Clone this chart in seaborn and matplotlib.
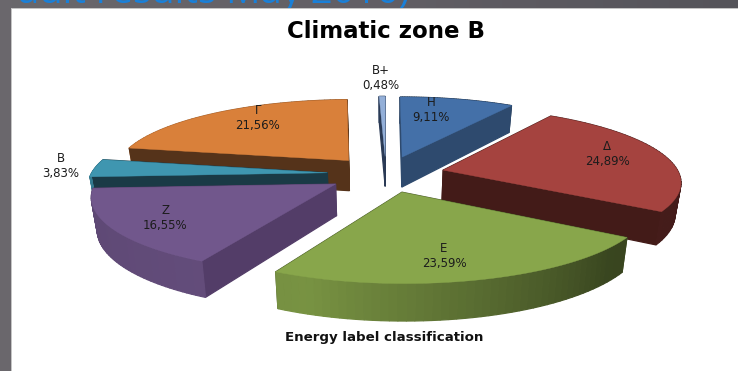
"""
plot.py
Exploded 3D style pie for climatic zone B, saved to out.png.
"""

import numpy as np
import matplotlib.pyplot as plt
import seaborn as sns

sns.set_theme(style="white")

# clockwise from 12 o'clock
labels = ['Η', 'Δ', 'Ε', 'Ζ', 'Β', 'Γ', 'Β+']
shares = [9.11, 24.89, 23.59, 16.55, 3.83, 21.56, 0.48]
share_text = ['9,11%', '24,89%', '23,59%', '16,55%', '3,83%', '21,56%', '0,48%']
top_colors = ['#4470a8', '#a5433f', '#88a64b', '#71578c', '#3f96b0', '#d9803a', '#93afd8']
side_colors = ['#2e4a6e', '#431b18', '#3f4f22', '#533d68', '#1a3a46', '#55331a', '#2a3a55']

# where each label sits, same order as labels
label_pos = [(431, 110), (607, 154), (444, 256), (165, 218), (61, 166), (258, 118), (381, 78)]

# projection of the pie plane onto the picture
CX, CY = 386, 174
RX, RY = 236, 72.9
PERSP = 0.14
EXPLODE = 0.25
DEPTH = 31

palette_top = sns.color_palette(top_colors)
palette_side = sns.color_palette(side_colors)


def project(u, v):
    s = 1 / (1 + PERSP * v)
    return CX + RX * u * s, CY - RY * v * s, s


def wedge_outline(start, end):
    theta = np.radians(np.linspace(start, end, 50))
    mid = np.radians((start + end) / 2)
    ox, oy = EXPLODE * np.sin(mid), EXPLODE * np.cos(mid)
    u = np.r_[ox, ox + np.sin(theta), ox]
    v = np.r_[oy, oy + np.cos(theta), oy]
    return project(u, v)


def arc_shade(deg):
    # the rim gets lighter going round from right to the left
    return np.interp(deg, [90, 130, 200, 270, 360], [0.40, 0.42, 0.88, 0.82, 0.6])


def draw_wedge(ax, start, end, top, side):
    x, y, s = wedge_outline(start, end)
    xb = CX + (x - CX) * 0.98
    yb = y + DEPTH * s
    degs = np.r_[start, np.linspace(start, end, 50), end]

    quads = []
    for i in range(len(x) - 1):
        on_rim = 1 <= i < len(x) - 2
        if on_rim:
            f = arc_shade((degs[i] + degs[i + 1]) / 2)
            col = tuple(c * f for c in top)
        else:
            col = side
        quads.append(((y[i] + y[i + 1]) / 2, [x[i], x[i + 1], xb[i + 1], xb[i]],
                      [y[i], y[i + 1], yb[i + 1], yb[i]], col))
    quads.sort(key=lambda q: q[0])
    for _, qx, qy, col in quads:
        ax.fill(qx, qy, color=col, lw=0.9)
    ax.fill(x, y, color=top, lw=0.3)


def main():
    fig = plt.figure(figsize=(7.38, 3.71), dpi=100)
    ax = fig.add_axes([0, 0, 1, 1])

    # slide behind the chart
    band = np.linspace(0, 1, 256).reshape(1, -1)
    ax.imshow(band, extent=(0, 738, 8, 0), aspect='auto', cmap=sns.blend_palette(
        ['#6a686c', '#625f65', '#55545a'], as_cmap=True), zorder=0)
    ax.set_xlim(0, 738)
    ax.set_ylim(371, 0)
    ax.axis('off')
    ax.fill([0, 11, 11, 0], [0, 0, 371, 371], color='#6a676c', zorder=0.5)
    ax.text(18, 3, 'ault results May 2016)', color='#1a80d8', fontsize=27.5,
            family='Open Sans', va='baseline', ha='left', zorder=0.7)
    ax.fill([11, 738, 738, 11], [7.5, 7.5, 371, 371], color='#c4c4c4', lw=0, zorder=0.8)
    ax.fill([12, 738, 738, 12], [8.5, 8.5, 371, 371], color='white', lw=0, zorder=0.9)

    edges = np.cumsum([0] + shares) / sum(shares) * 360
    wedges = []
    for i in range(len(shares)):
        x, y, s = wedge_outline(edges[i], edges[i + 1])
        wedges.append((y[0], i))

    # back wedges first so the nearer ones cover them
    for _, i in sorted(wedges):
        draw_wedge(ax, edges[i], edges[i + 1], palette_top[i], palette_side[i])

    for name, txt, (lx, ly) in zip(labels, share_text, label_pos):
        ax.text(lx, ly, f"{name}\n{txt}", ha='center', va='center', fontsize=8.5,
                color='#1c1c1c', family='DejaVu Sans', linespacing=1.15, zorder=5)

    ax.text(386, 31, 'Climatic zone B', ha='center', va='center', fontsize=16.5,
            fontweight='bold', family='DejaVu Sans', color='black', zorder=5)
    ax.text(384, 338, 'Energy label classification', ha='center', va='center',
            fontsize=9.6, fontweight='bold', family='DejaVu Sans', color='#111111', zorder=5)

    fig.savefig('out.png', dpi=100)
    plt.close(fig)


if __name__ == "__main__":
    main()
